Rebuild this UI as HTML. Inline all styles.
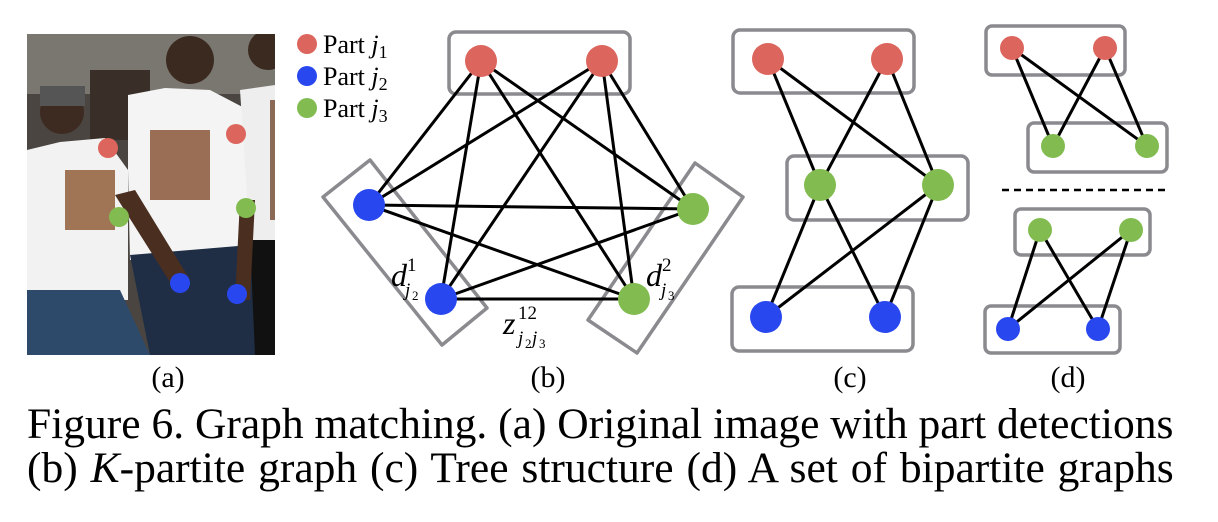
<!DOCTYPE html>
<html><head><style>
body{margin:0;background:#fff;width:1218px;height:522px;overflow:hidden}
svg{position:absolute;left:0;top:0}
.cap{position:absolute;left:27px;font-family:"Liberation Serif",serif;font-size:43.5px;line-height:48px;color:#000;white-space:nowrap}
</style></head><body>
<svg width="1218" height="522" xmlns="http://www.w3.org/2000/svg">
<defs><clipPath id="ph"><rect x="27" y="34" width="248" height="321"/></clipPath></defs>
<g clip-path="url(#ph)">
<rect x="27" y="34" width="248" height="321" fill="#4a4540"/>
<rect x="27" y="34" width="248" height="60" fill="#7a7670"/>
<rect x="90" y="70" width="60" height="70" fill="#3a2e28"/>
<circle cx="62" cy="112" r="22" fill="#3d2a20"/>
<rect x="40" y="86" width="45" height="20" fill="#555"/>
<circle cx="190" cy="60" r="24" fill="#3a2a20"/>
<circle cx="268" cy="50" r="20" fill="#3a2a20"/>
<path d="M27 150 L60 142 L105 138 L128 170 L128 300 L27 300 Z" fill="#f2f2f2"/>
<path d="M128 95 L165 88 L210 90 L258 115 L270 185 L250 195 L245 250 L130 260 L128 170 Z" fill="#f4f4f4"/>
<path d="M240 90 L275 85 L275 240 L250 240 Z" fill="#eeeeee"/>
<rect x="150" y="130" width="60" height="70" fill="#9a6e55"/>
<rect x="65" y="170" width="50" height="60" fill="#a07555"/>
<rect x="270" y="100" width="5" height="120" fill="#8a6a55"/>
<path d="M27 290 L120 290 L150 355 L27 355 Z" fill="#2e4a6a"/>
<path d="M130 255 L250 245 L260 355 L150 355 Z" fill="#1f2e45"/>
<path d="M250 240 L275 240 L275 355 L255 355 Z" fill="#111"/>
<path d="M115 195 L135 190 L190 280 L175 290 Z" fill="#4a2e20"/>
<path d="M240 200 L255 200 L250 300 L235 300 Z" fill="#4a2e20"/>
</g>
<g>
<circle cx="108" cy="148" r="10" fill="#dc655d"/><circle cx="236" cy="134" r="10" fill="#dc655d"/>
<circle cx="119" cy="217" r="10" fill="#82bc51"/><circle cx="246" cy="208" r="10" fill="#82bc51"/>
<circle cx="180" cy="283" r="10" fill="#2947ef"/><circle cx="237" cy="294" r="10" fill="#2947ef"/>
</g>
<circle cx="307" cy="44" r="10" fill="#dc655d"/><circle cx="307" cy="76" r="10" fill="#2947ef"/><circle cx="307" cy="108" r="10" fill="#82bc51"/>
<g font-family="Liberation Serif,serif" font-size="26">
<text x="323" y="53">Part <tspan font-style="italic">j</tspan><tspan font-size="18" dy="5">1</tspan></text>
<text x="323" y="85">Part <tspan font-style="italic">j</tspan><tspan font-size="18" dy="5">2</tspan></text>
<text x="323" y="117">Part <tspan font-style="italic">j</tspan><tspan font-size="18" dy="5">3</tspan></text>
</g>
<g fill="none" stroke="#8a8a8f" stroke-width="3.5">
<rect x="449" y="32" width="181" height="62" rx="7"/>
<polygon points="370,160 323,197 442,345 487,308" stroke-linejoin="round"/>
<polygon points="695,163 743,197 637,353 588,320" stroke-linejoin="round"/>
<rect x="733" y="30" width="181" height="63" rx="7"/>
<rect x="787" y="156" width="181" height="64" rx="7"/>
<rect x="732" y="287" width="181" height="64" rx="7"/>
<rect x="986" y="26" width="139" height="49" rx="6"/>
<rect x="1028" y="123" width="139" height="49" rx="6"/>
<rect x="1015" y="209" width="135" height="46" rx="6"/>
<rect x="985" y="306" width="135" height="47" rx="6"/>
</g>
<g stroke="#000" stroke-width="3">
<line x1="481" y1="61" x2="369" y2="205"/><line x1="481" y1="61" x2="441" y2="299"/><line x1="481" y1="61" x2="693" y2="209"/><line x1="481" y1="61" x2="634" y2="299"/>
<line x1="602" y1="61" x2="369" y2="205"/><line x1="602" y1="61" x2="441" y2="299"/><line x1="602" y1="61" x2="693" y2="209"/><line x1="602" y1="61" x2="634" y2="299"/>
<line x1="369" y1="205" x2="693" y2="209"/><line x1="369" y1="205" x2="634" y2="299"/><line x1="441" y1="299" x2="693" y2="209"/><line x1="441" y1="299" x2="634" y2="299"/>
<line x1="768" y1="59" x2="820" y2="185"/><line x1="768" y1="59" x2="938" y2="185"/><line x1="887" y1="59" x2="820" y2="185"/><line x1="887" y1="59" x2="938" y2="185"/>
<line x1="820" y1="185" x2="766" y2="317"/><line x1="820" y1="185" x2="885" y2="317"/><line x1="938" y1="185" x2="766" y2="317"/><line x1="938" y1="185" x2="885" y2="317"/>
<line x1="1012" y1="48" x2="1053" y2="146"/><line x1="1012" y1="48" x2="1147" y2="146"/><line x1="1105" y1="48" x2="1053" y2="146"/><line x1="1105" y1="48" x2="1147" y2="146"/>
<line x1="1040" y1="230" x2="1008" y2="329"/><line x1="1040" y1="230" x2="1098" y2="329"/><line x1="1131" y1="230" x2="1008" y2="329"/><line x1="1131" y1="230" x2="1098" y2="329"/>
<line x1="1002" y1="190" x2="1170" y2="190" stroke-width="2.5" stroke-dasharray="7,5"/>
</g>
<g fill="#dc655d"><circle cx="481" cy="61" r="16"/><circle cx="602" cy="61" r="16"/><circle cx="768" cy="59" r="16"/><circle cx="887" cy="59" r="16"/><circle cx="1012" cy="48" r="12"/><circle cx="1105" cy="48" r="12"/></g>
<g fill="#82bc51"><circle cx="693" cy="209" r="16"/><circle cx="634" cy="299" r="16"/><circle cx="820" cy="185" r="16"/><circle cx="938" cy="185" r="16"/><circle cx="1053" cy="146" r="12"/><circle cx="1147" cy="146" r="12"/><circle cx="1040" cy="230" r="12"/><circle cx="1131" cy="230" r="12"/></g>
<g fill="#2947ef"><circle cx="369" cy="205" r="16"/><circle cx="441" cy="299" r="16"/><circle cx="766" cy="317" r="16"/><circle cx="885" cy="317" r="16"/><circle cx="1008" cy="329" r="12"/><circle cx="1098" cy="329" r="12"/></g>
<g font-family="Liberation Serif,serif" font-style="italic">
<text x="391" y="286" font-size="32">d</text><text x="407" y="271" font-size="19" font-style="normal">1</text><text x="405" y="296" font-size="19">j</text><text x="412" y="300" font-size="13" font-style="normal">2</text>
<text x="646" y="286" font-size="32">d</text><text x="662" y="271" font-size="19" font-style="normal">2</text><text x="661" y="296" font-size="19">j</text><text x="668" y="300" font-size="13" font-style="normal">3</text>
<text x="503" y="334" font-size="32">z</text><text x="518" y="319" font-size="19" font-style="normal">12</text><text x="518" y="344" font-size="19">j</text><text x="525" y="348" font-size="13" font-style="normal">2</text><text x="532" y="344" font-size="19">j</text><text x="539" y="348" font-size="13" font-style="normal">3</text>
</g>
<g font-family="Liberation Serif,serif" font-size="30" text-anchor="middle">
<text x="168" y="387">(a)</text><text x="548" y="387">(b)</text><text x="850" y="387">(c)</text><text x="1068" y="387">(d)</text>
</g>
</svg>
<div class="cap" style="top:400px">Figure 6. Graph matching. (a) Original image with part detections</div>
<div class="cap" style="top:444px;word-spacing:2px">(b) <i>K</i>-partite graph (c) Tree structure (d) A set of bipartite graphs</div>
</body></html>
